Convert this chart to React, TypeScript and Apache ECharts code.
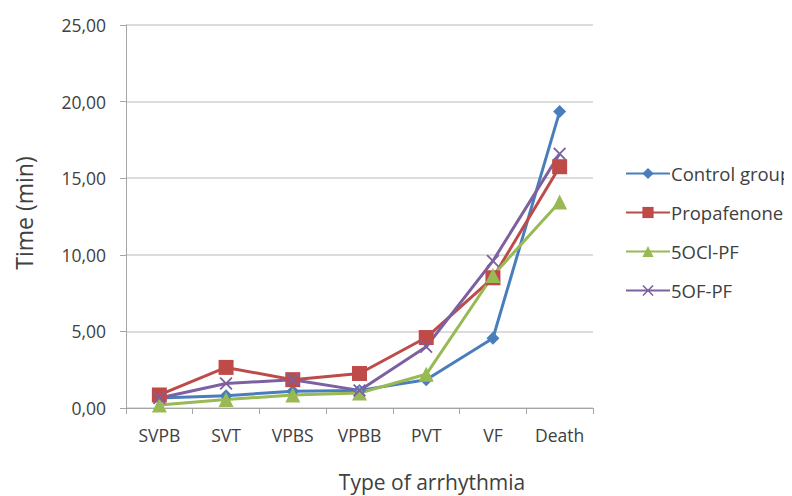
import React, { useEffect, useRef } from "react";
import * as echarts from "echarts";

const categories = ["SVPB", "SVT", "VPBS", "VPBB", "PVT", "VF", "Death"];
const controlGroup = [0.65, 0.8, 1.1, 1.15, 1.85, 4.55, 19.35];
const propafenone = [0.85, 2.65, 1.85, 2.25, 4.6, 8.5, 15.75];
const ocl = [0.2, 0.55, 0.85, 0.98, 2.2, 8.65, 13.45];
const of = [0.65, 1.6, 1.85, 1.15, 4.0, 9.6, 16.6];
const seriesNames = ["Control group", "Propafenone", "5OCl-PF", "5OF-PF"];
const yTicks = [0, 5, 10, 15, 20, 25];

const FONT = "Open Sans";
const crossPath =
  "path://M0,1 L1,0 L5,4 L9,0 L10,1 L6,5 L10,9 L9,10 L5,6 L1,10 L0,9 L4,5 Z";

export default function App() {
  const ref = useRef<HTMLDivElement>(null);
  useEffect(() => {
    const chart = echarts.init(ref.current!, null, { renderer: "svg" });
    const mk = (name: string, data: number[], color: string, symbol: string, size: number) => ({
      name,
      type: "line",
      data,
      symbol,
      symbolSize: size,
      lineStyle: { color, width: 3 },
      itemStyle: { color },
      emphasis: { disabled: true },
    });
    chart.setOption({
      animation: false,
      backgroundColor: "#ffffff",
      textStyle: { fontFamily: FONT },
      grid: { left: 118, top: 17, right: 199, bottom: 88 },
      legend: {
        orient: "vertical",
        left: 612,
        top: 151,
        itemWidth: 44,
        itemHeight: 14,
        itemGap: 20,
        data: seriesNames,
        textStyle: { fontFamily: FONT, fontSize: 18.5, color: "#404040", padding: [0, 0, 0, -4] },
      },
      xAxis: {
        type: "category",
        data: categories,
        boundaryGap: true,
        axisLine: { lineStyle: { color: "#a6a6a6", width: 1 } },
        axisTick: { show: true, length: 6, alignWithLabel: false, lineStyle: { color: "#a6a6a6" } },
        axisLabel: { fontFamily: FONT, fontSize: 17.5, color: "#404040", margin: 18 },
        splitLine: { show: false },
      },
      yAxis: {
        type: "value",
        min: 0,
        max: 25,
        interval: 5,
        axisLine: { show: true, lineStyle: { color: "#a6a6a6", width: 1 } },
        axisTick: { show: true, length: 6, inside: false, lineStyle: { color: "#a6a6a6" } },
        axisLabel: {
          fontFamily: FONT,
          fontSize: 17.5,
          color: "#404040",
          margin: 20,
          formatter: (v: number) => (yTicks.includes(v) ? v.toFixed(2).replace(".", ",") : ""),
        },
        splitLine: { lineStyle: { color: "#d0d0d0", width: 1.5 } },
      },
      graphic: [
        {
          type: "text",
          x: 16,
          y: 205,
          rotation: Math.PI / 2,
          style: {
            text: "Time (min)",
            fontFamily: FONT,
            fontSize: 23,
            fill: "#404040",
            align: "center",
            verticalAlign: "middle",
          },
        },
        {
          type: "text",
          x: 424,
          y: 463,
          style: {
            text: "Type of arrhythmia",
            fontFamily: FONT,
            fontSize: 21,
            fill: "#404040",
            align: "center",
            verticalAlign: "top",
          },
        },
      ],
      series: [
        mk(seriesNames[0], controlGroup, "#4A7EBB", "diamond", 13),
        mk(seriesNames[1], propafenone, "#BE4B48", "rect", 15),
        mk(seriesNames[2], ocl, "#98B954", "triangle", 15),
        mk(seriesNames[3], of, "#7D60A0", crossPath, 13),
      ],
    });
    return () => chart.dispose();
  }, []);
  return <div ref={ref} style={{ width: 784, height: 488 }} />;
}
